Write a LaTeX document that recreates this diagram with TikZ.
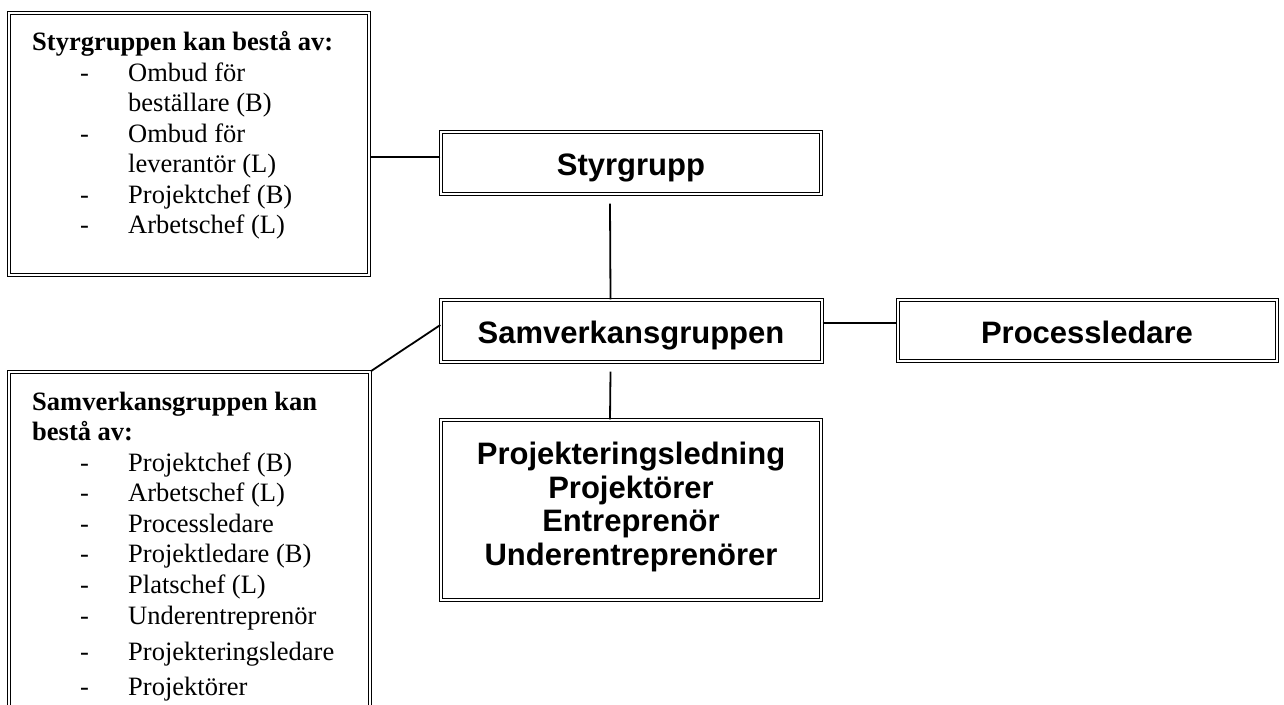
\documentclass[tikz,border=0pt]{standalone}
\usepackage{fontspec}
\setmainfont{Liberation Serif}
\newfontfamily\boxfont{Liberation Sans}
\begin{document}
\begin{tikzpicture}[x=1pt,y=-1pt,
  frame/.style={draw=black, line width=1.4pt, double=white, double distance=1.7pt,
    rectangle, inner sep=0pt, fill=white},
  title/.style={font=\boxfont\bfseries\fontsize{31}{34}\selectfont, inner sep=0pt, anchor=base},
  head/.style={font=\bfseries\fontsize{26.5}{30.5}\selectfont, inner sep=0pt, anchor=base west},
  item/.style={font=\fontsize{26.5}{30.5}\selectfont, inner sep=0pt, anchor=base west},
  link/.style={draw=black, line width=1.8pt}]
\useasboundingbox (0,0) rectangle (1284,704);

% boxes
\node[frame, minimum width=360pt, minimum height=262pt] (sgInfo) at (189,144) {};
\node[frame, minimum width=380pt, minimum height=62pt] (styr) at (631,163) {};
\node[frame, minimum width=381pt, minimum height=62pt] (samv) at (631.5,331) {};
\node[frame, minimum width=379pt, minimum height=61pt] (proc) at (1087.5,330.5) {};
\node[frame, minimum width=380pt, minimum height=180pt] (proj) at (631,510) {};
\node[frame, minimum width=361pt, minimum height=370pt] (svInfo) at (189.5,557) {};

% box titles
\node[title] (tStyr) at (631,175) {Styrgrupp};
\node[title] (tSamv) at (631,343) {Samverkansgruppen};
\node[title] (tProc) at (1087,343) {Processledare};
\node[title] (tP1) at (631,464) {Projekteringsledning};
\node[title] (tP2) at (631,498) {Projektörer};
\node[title] (tP3) at (631,531) {Entreprenör};
\node[title] (tP4) at (631,565) {Underentreprenörer};

% members of the steering group
\node[head] (sgHead) at (32,50) {Styrgruppen kan bestå av:};
\node[item] (sgD1) at (80,81) {-};
\node[item] (sgI1) at (128,81) {Ombud för};
\node[item] (sgI1b) at (128,111) {beställare (B)};
\node[item] (sgD2) at (80,142) {-};
\node[item] (sgI2) at (128,142) {Ombud för};
\node[item] (sgI2b) at (128,172) {leverantör (L)};
\node[item] (sgD3) at (80,203) {-};
\node[item] (sgI3) at (128,203) {Projektchef (B)};
\node[item] (sgD4) at (80,233) {-};
\node[item] (sgI4) at (128,233) {Arbetschef (L)};

% members of the collaboration group
\node[head] (svHead) at (32,410) {Samverkansgruppen kan};
\node[head] (svHeadb) at (32,440) {bestå av:};
\node[item] (svD1) at (80,471) {-};
\node[item] (svI1) at (128,471) {Projektchef (B)};
\node[item] (svD2) at (80,501) {-};
\node[item] (svI2) at (128,501) {Arbetschef (L)};
\node[item] (svD3) at (80,532) {-};
\node[item] (svI3) at (128,532) {Processledare};
\node[item] (svD4) at (80,562) {-};
\node[item] (svI4) at (128,562) {Projektledare (B)};
\node[item] (svD5) at (80,593) {-};
\node[item] (svI5) at (128,593) {Platschef (L)};
\node[item] (svD6) at (80,624) {-};
\node[item] (svI6) at (128,624) {Underentreprenör};
\node[item] (svD7) at (80,660) {-};
\node[item] (svI7) at (128,660) {Projekteringsledare};
\node[item] (svD8) at (80,695) {-};
\node[item] (svI8) at (128,695) {Projektörer};

% connectors
\draw[link] ([yshift=6pt]styr.west) -- ([yshift=6pt]styr.west -| sgInfo.east);
\draw[link] ([xshift=-21pt,yshift=-9pt]styr.south) -- ([xshift=-21pt]samv.north);
\draw[link] ([xshift=-21pt,yshift=-9pt]samv.south) -- ([xshift=-21pt]proj.north);
\draw[link] ([yshift=8pt]samv.east) -- ([yshift=8pt]samv.east -| proc.west);
\draw[link] ([yshift=6pt]samv.west) -- (svInfo.north east);
\end{tikzpicture}
\end{document}
